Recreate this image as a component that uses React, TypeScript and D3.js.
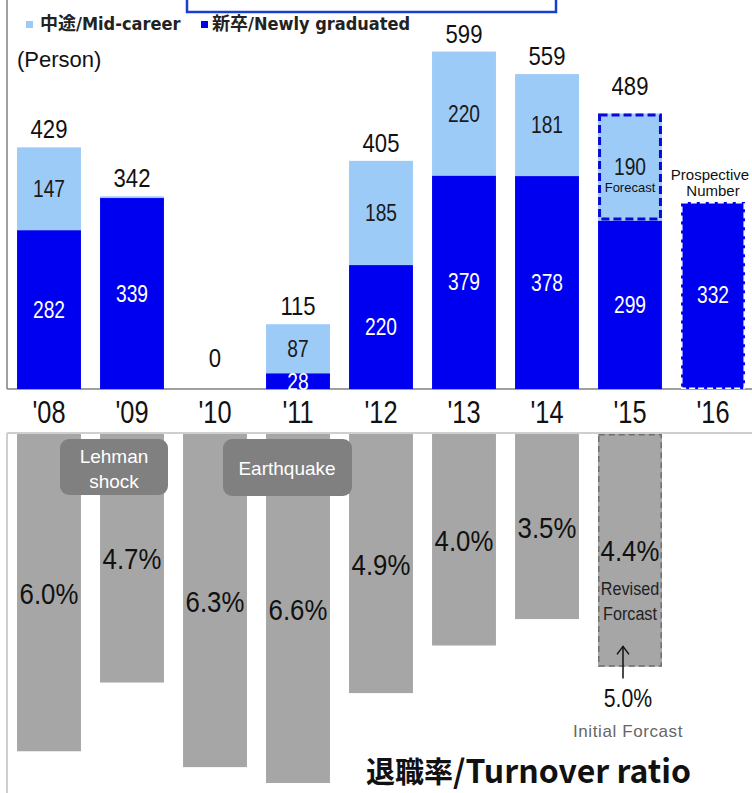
import React from "react";
import * as d3 from "d3";

const years = ["'08", "'09", "'10", "'11", "'12", "'13", "'14", "'15", "'16"];
const newGrad = [282, 339, 0, 28, 220, 379, 378, 299, 332];
const midCareer = [147, 3, 0, 87, 185, 220, 181, 190, 0];
const totalLabels = ["429", "342", "0", "115", "405", "599", "559", "489", ""];
const midLabels = ["147", "", "", "87", "185", "220", "181", "190", ""];
const newLabels = ["282", "339", "", "28", "220", "379", "378", "299", "332"];
const turnover = [6.0, 4.7, 6.3, 6.6, 4.9, 4.0, 3.5, 4.4, null];
const turnoverLabels = ["6.0%", "4.7%", "6.3%", "6.6%", "4.9%", "4.0%", "3.5%", "4.4%", ""];
const initialForecast = 5.0;

const W = 752;
const H = 793;
const DARK = "#0000f0";
const LIGHT = "#9ccbf8";
const GRAY = "#a6a6a6";
const NARROW = "'DejaVu Sans Condensed', 'Noto Sans CJK JP', sans-serif";
const ARIAL = "'Liberation Sans', Arial, sans-serif";

function NText(props: { x: number; y: number; size: number; sx?: number; fill?: string; children: React.ReactNode; anchor?: string }) {
  const { x, y, size, sx = 0.82, fill = "#111", children, anchor = "middle" } = props;
  return (
    <text
      transform={`translate(${x},${y}) scale(${sx},1)`}
      textAnchor={anchor}
      fontFamily={ARIAL}
      fontSize={size}
      fill={fill}
    >
      {children}
    </text>
  );
}

export default function App() {
  const x = d3.scaleBand<string>().domain(years).range([7.5, 754.5]).paddingInner(0.23).paddingOuter(0.115);
  const yTop = d3.scaleLinear().domain([0, 600]).range([389, 51]);
  const yBot = d3.scaleLinear().domain([0, 6.6]).range([434, 783]);
  const bw = x.bandwidth();

  return (
    <svg width={W} height={H} style={{ position: "absolute", left: 0, top: 0, background: "#fff" }}>
      <rect x={0} y={0} width={W} height={H} fill="#fff" />
      {/* top blue frame */}
      <rect x={187} y={-10} width={369} height={22} fill="#fff" stroke="#1a3fd0" strokeWidth={2.5} />
      {/* legend */}
      <rect x={26} y={21} width={7} height={7} fill={LIGHT} />
      <text x={40} y={30} fontFamily={NARROW} fontWeight="bold" fontSize={18} fill="#222">中途/Mid-career</text>
      <rect x={201} y={21} width={7} height={7} fill={DARK} />
      <text x={212} y={30} fontFamily={NARROW} fontWeight="bold" fontSize={18} fill="#222">新卒/Newly graduated</text>
      <text x={17} y={67} fontFamily={ARIAL} fontSize={22} fill="#111">(Person)</text>

      {/* axes lines top */}
      <line x1={7} x2={7} y1={0} y2={389} stroke="#808080" strokeWidth={1.5} />
      <line x1={7} x2={W} y1={389} y2={389} stroke="#808080" strokeWidth={1.5} />

      {years.map((yr, i) => {
        const x0 = x(yr)!;
        const cx = x0 + bw / 2;
        const n = newGrad[i];
        const m = midCareer[i];
        const yN = yTop(n);
        const yT = yTop(n + m);
        const isForecast = i === 7;
        const isProspect = i === 8;
        return (
          <g key={yr}>
            {n > 0 && !isProspect && (
              <rect x={x0} y={yN} width={bw} height={yTop(0) - yN} fill={DARK} />
            )}
            {isProspect && (
              <g>
                <rect x={x0} y={yN} width={bw} height={yTop(0) - yN} fill={DARK} />
                <rect x={x0 + 0.75} y={yN + 0.75} width={bw - 1.5} height={yTop(0) - yN - 1.5} fill="none" stroke="#fff" strokeWidth={1.5} strokeDasharray="6 3" />
              </g>
            )}
            {m > 0 && (
              <rect x={x0} y={yT} width={bw} height={yN - yT} fill={LIGHT} />
            )}
            {isForecast && (
              <rect x={x0 + 1.5} y={yT + 1.5} width={bw - 3} height={yN - yT - 3} fill="none" stroke="#0a0ad8" strokeWidth={3} strokeDasharray="8 4" />
            )}
            {totalLabels[i] && (
              <NText x={cx} y={i === 2 ? yTop(0) - 22 : yT - (isForecast ? 19 : 9)} size={26} sx={0.85}>
                {totalLabels[i]}
              </NText>
            )}
            {midLabels[i] && (
              <NText x={cx} y={(yT + yN) / 2 + 8} size={24} sx={0.8} fill="#1a1a1a">
                {midLabels[i]}
              </NText>
            )}
            {newLabels[i] && (
              <NText x={cx} y={(yN + yTop(0)) / 2 + (i === 3 ? 9 : 8)} size={24} sx={0.8} fill="#fff">
                {newLabels[i]}
              </NText>
            )}
            <NText x={cx} y={423} size={31} sx={0.82}>
              {yr}
            </NText>
          </g>
        );
      })}

      <text x={x("'15")! + bw / 2} y={192} textAnchor="middle" fontFamily={ARIAL} fontSize={13} fill="#111">Forecast</text>
      <text x={x("'16")! + bw / 2 - 3} y={180} textAnchor="middle" fontFamily={ARIAL} fontSize={15} fill="#111">Prospective</text>
      <text x={x("'16")! + bw / 2} y={196} textAnchor="middle" fontFamily={ARIAL} fontSize={15} fill="#111">Number</text>

      {/* bottom chart */}
      <line x1={7} x2={W} y1={433} y2={433} stroke="#cfcfcf" strokeWidth={2} />
      <line x1={7} x2={7} y1={433} y2={H} stroke="#cfcfcf" strokeWidth={2} />

      {years.map((yr, i) => {
        const v = turnover[i];
        if (v == null) return null;
        const x0 = x(yr)!;
        const cx = x0 + bw / 2;
        const yb = yBot(v);
        const isForecast = i === 7;
        return (
          <g key={"t" + yr}>
            <rect x={x0} y={yBot(0)} width={bw} height={yb - yBot(0)} fill={GRAY} />
            {isForecast && (
              <rect x={x0 + 0.75} y={yBot(0) + 0.75} width={bw - 1.5} height={yb - yBot(0) - 1.5} fill="none" stroke="#6e6e6e" strokeWidth={1.5} strokeDasharray="6 4" />
            )}
            <NText x={cx} y={(yBot(0) + yb) / 2 + 11} size={30} sx={0.86}>
              {turnoverLabels[i]}
            </NText>
          </g>
        );
      })}

      <NText x={x("'15")! + bw / 2} y={595} size={19} sx={0.85} fill="#222">Revised</NText>
      <NText x={x("'15")! + bw / 2} y={620} size={19} sx={0.85} fill="#222">Forcast</NText>
      <line x1={623} x2={623} y1={yBot(initialForecast) - 20} y2={yBot(initialForecast) - 52} stroke="#111" strokeWidth={1.5} />
      <path d={`M ${617} ${yBot(initialForecast) - 44} L ${623} ${yBot(initialForecast) - 52} L ${629} ${yBot(initialForecast) - 44}`} fill="none" stroke="#111" strokeWidth={1.5} />
      <NText x={628} y={707} size={25} sx={0.85}>{initialForecast.toFixed(1) + "%"}</NText>
      <text x={628} y={737} textAnchor="middle" fontFamily={ARIAL} fontSize={17} letterSpacing={0.6} fill="#666">Initial Forcast</text>

      {/* event labels */}
      <rect x={60} y={439} width={108} height={56} rx={9} fill="#808080" />
      <text x={114} y={463} textAnchor="middle" fontFamily={ARIAL} fontSize={19} fill="#fff">Lehman</text>
      <text x={114} y={488} textAnchor="middle" fontFamily={ARIAL} fontSize={19} fill="#fff">shock</text>
      <rect x={223} y={439} width={129} height={57} rx={9} fill="#808080" />
      <text x={287} y={475} textAnchor="middle" fontFamily={ARIAL} fontSize={19} fill="#fff">Earthquake</text>

      <text x={366} y={783} fontFamily="'Noto Sans CJK JP', sans-serif" fontWeight="bold" fontSize={29} fill="#111">
        退職率<tspan fontSize={32}>/Turnover ratio</tspan>
      </text>
    </svg>
  );
}
